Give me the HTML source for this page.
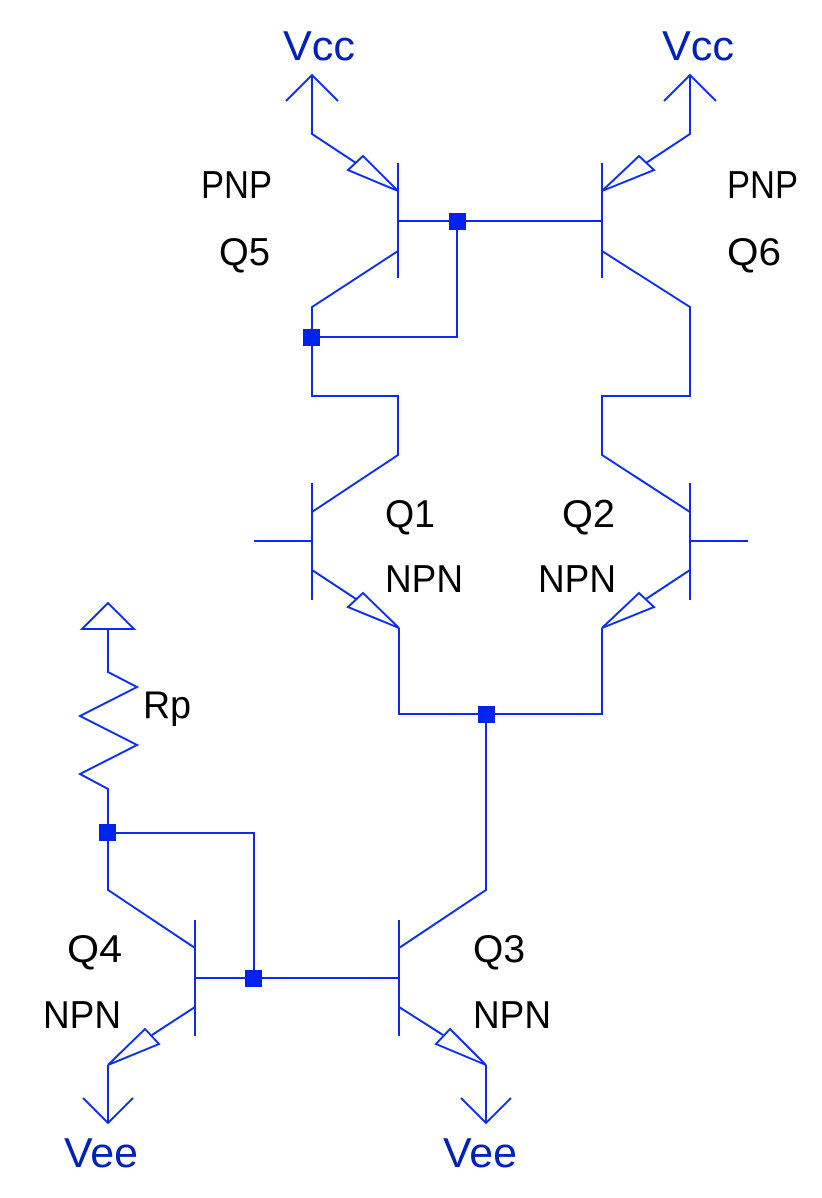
<!DOCTYPE html>
<html><head><meta charset="utf-8"><style>html,body{margin:0;padding:0;background:#fff}svg{display:block}</style></head>
<body>
<svg width="822" height="1198" viewBox="0 0 822 1198" xmlns="http://www.w3.org/2000/svg">
<g fill="none" stroke="#0a2cf0" stroke-width="2" stroke-linejoin="miter">
<polyline points="286,101 312,75 338,101"/>
<polyline points="312,75 312,134 356,163"/>
<polygon points="363,156 348,170 398,191"/>
<line x1="398" y1="163" x2="398" y2="278"/>
<polyline points="398,221 602,221"/>
<polyline points="398,251 312,307 312,396 398,396 398,455 312,512"/>
<polyline points="312,337 457,337 457,221"/>
<polyline points="664,101 690,75 716,101"/>
<polyline points="690,75 690,134 646,163"/>
<polygon points="639,156 654,170 602,191"/>
<line x1="602" y1="163" x2="602" y2="278"/>
<polyline points="602,251 690,307 690,396 602,396 602,455 690,512"/>
<line x1="312" y1="483" x2="312" y2="600"/>
<line x1="254" y1="541" x2="312" y2="541"/>
<polyline points="312,570 356,599"/>
<polygon points="363,593 348,607 399,628"/>
<polyline points="399,628 399,714 602,714 602,628"/>
<line x1="690" y1="483" x2="690" y2="600"/>
<line x1="690" y1="541" x2="748" y2="541"/>
<polyline points="690,570 646,599"/>
<polygon points="639,593 654,607 602,628"/>
<polygon points="108,603 82,629 134,629"/>
<polyline points="108,629 108,672 137,687 80,716 137,745 80,774 108,789 108,890 195,948"/>
<polyline points="108,833 254,833 254,978"/>
<line x1="195" y1="920" x2="195" y2="1036"/>
<line x1="195" y1="978" x2="399" y2="978"/>
<polyline points="195,1007 152,1035"/>
<polygon points="145,1029 159,1044 108,1065"/>
<polyline points="108,1065 108,1123"/>
<polyline points="83,1098 108,1123 133,1098"/>
<line x1="399" y1="920" x2="399" y2="1036"/>
<polyline points="399,948 486,890 486,714"/>
<polyline points="399,1007 443,1035"/>
<polygon points="450,1029 436,1044 486,1065"/>
<polyline points="486,1065 486,1123"/>
<polyline points="461,1098 486,1123 511,1098"/>
</g>
<g fill="#0022ee">
<rect x="449" y="213" width="17" height="17"/>
<rect x="303" y="329" width="17" height="17"/>
<rect x="478" y="706" width="17" height="17"/>
<rect x="99" y="824" width="17" height="17"/>
<rect x="245" y="970" width="17" height="17"/>
</g>
<g font-family="Liberation Sans, sans-serif" font-size="39" fill="#000">
<text x="201" y="198" textLength="71" lengthAdjust="spacingAndGlyphs">PNP</text>
<text x="219" y="265" textLength="51" lengthAdjust="spacingAndGlyphs">Q5</text>
<text x="727" y="198" textLength="71" lengthAdjust="spacingAndGlyphs">PNP</text>
<text x="727" y="265" textLength="54" lengthAdjust="spacingAndGlyphs">Q6</text>
<text x="385" y="527" textLength="50" lengthAdjust="spacingAndGlyphs">Q1</text>
<text x="385" y="592" textLength="78" lengthAdjust="spacingAndGlyphs">NPN</text>
<text x="562" y="527" textLength="53" lengthAdjust="spacingAndGlyphs">Q2</text>
<text x="538" y="592" textLength="78" lengthAdjust="spacingAndGlyphs">NPN</text>
<text x="143" y="718" textLength="48" lengthAdjust="spacingAndGlyphs">Rp</text>
<text x="67" y="962" textLength="55" lengthAdjust="spacingAndGlyphs">Q4</text>
<text x="43" y="1028" textLength="78" lengthAdjust="spacingAndGlyphs">NPN</text>
<text x="473" y="962" textLength="52" lengthAdjust="spacingAndGlyphs">Q3</text>
<text x="473" y="1028" textLength="78" lengthAdjust="spacingAndGlyphs">NPN</text>
</g>
<g font-family="Liberation Sans, sans-serif" font-size="42" fill="#0022bb">
<text x="283" y="60" textLength="72" lengthAdjust="spacingAndGlyphs">Vcc</text>
<text x="662" y="60" textLength="72" lengthAdjust="spacingAndGlyphs">Vcc</text>
<text x="64" y="1167" textLength="74" lengthAdjust="spacingAndGlyphs">Vee</text>
<text x="443" y="1167" textLength="74" lengthAdjust="spacingAndGlyphs">Vee</text>
</g>
</svg>
</body></html>
